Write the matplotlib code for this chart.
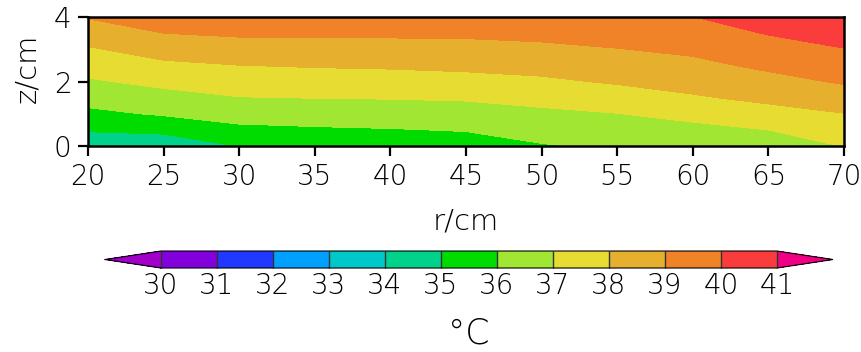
import numpy as np
import matplotlib
matplotlib.use("Agg")
import matplotlib.pyplot as plt
from matplotlib.colors import ListedColormap, BoundaryNorm

# grid of the temperature field, deg C
r_cm = [20, 25, 30, 35, 40, 45, 50, 55, 60, 65, 70]
z_cm = [0.0, 0.5, 1.0, 1.5, 2.0, 2.5, 3.0, 3.5, 4.0]
temp_z00 = [33.85, 34.30, 35.02, 35.25, 35.40, 35.55, 35.93, 36.15, 36.30, 36.45, 37.03]
temp_z05 = [35.14, 35.24, 35.77, 35.88, 35.95, 36.05, 36.34, 36.54, 36.72, 37.00, 37.46]
temp_z10 = [35.78, 36.10, 36.40, 36.45, 36.50, 36.58, 36.80, 36.98, 37.30, 37.65, 37.98]
temp_z15 = [36.35, 36.67, 36.97, 37.02, 37.05, 37.11, 37.30, 37.55, 37.90, 38.22, 38.55]
temp_z20 = [36.89, 37.24, 37.48, 37.54, 37.59, 37.68, 37.84, 38.10, 38.35, 38.71, 39.10]
temp_z25 = [37.40, 37.81, 37.99, 38.07, 38.12, 38.21, 38.32, 38.53, 38.77, 39.18, 39.53]
temp_z30 = [37.90, 38.40, 38.56, 38.61, 38.64, 38.68, 38.79, 38.97, 39.18, 39.61, 39.97]
temp_z35 = [38.47, 39.00, 39.14, 39.15, 39.15, 39.16, 39.25, 39.40, 39.58, 40.05, 40.40]
temp_z40 = [39.06, 39.60, 39.71, 39.70, 39.67, 39.65, 39.71, 39.83, 39.98, 40.49, 40.85]

levels = list(range(30, 42))
band_colors = ['#8200DC', '#2038FF', '#00A0FF', '#00C8C8', '#00D28C', '#00DC00',
               '#A0E632', '#E6DC32', '#E6AF2D', '#F08228', '#FA3C3C']
under_color = '#A000C8'
over_color = '#F00082'

T = np.array([temp_z00, temp_z05, temp_z10, temp_z15, temp_z20,
              temp_z25, temp_z30, temp_z35, temp_z40])
R, Z = np.meshgrid(r_cm, z_cm)

cmap = ListedColormap(band_colors)
cmap.set_under(under_color)
cmap.set_over(over_color)
norm = BoundaryNorm(levels, ncolors=cmap.N)

plt.rcParams['font.family'] = ['DejaVu Sans']
plt.rcParams['font.weight'] = 'light'
plt.rcParams['axes.labelweight'] = 'light'
fig = plt.figure(figsize=(8.62, 3.52), dpi=100)
ax = fig.add_axes([0.1021, 0.585, 0.877, 0.3665])

cs = ax.contourf(R, Z, T, levels=levels, cmap=cmap, norm=norm, extend='both')

ax.set_xlim(20, 70)
ax.set_ylim(0, 4)
ax.set_xticks(range(20, 71, 5))
ax.set_yticks([0, 2, 4])
ax.tick_params(direction='out', length=7, width=1.6, labelsize=20, pad=5)
for s in ax.spines.values():
    s.set_linewidth(1.8)
ax.set_xlabel('r/cm', fontsize=21, labelpad=12)
ax.set_ylabel('z/cm', fontsize=21)
ax.yaxis.set_label_coords(-0.062, 0.6)

# colorbar axes spans the triangles too
cax = fig.add_axes([0.1218, 0.2386, 0.8445, 0.0483])
cb = fig.colorbar(cs, cax=cax, orientation='horizontal', ticks=levels,
                  extendfrac=1 / 11, drawedges=True)
cb.outline.set_linewidth(0.8)
cb.dividers.set_color('#333333')
cb.dividers.set_linewidth(1.0)
cax.tick_params(length=0, labelsize=20, pad=3)
cb.set_label('°C', fontsize=25, labelpad=12)

fig.savefig('out.png', dpi=100)
